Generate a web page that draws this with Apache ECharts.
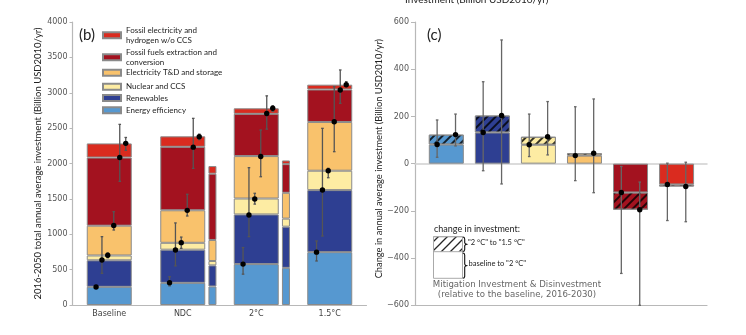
<!DOCTYPE html>
<html><head><meta charset="utf-8">
<script src="https://cdn.jsdelivr.net/npm/echarts@6/dist/echarts.min.js"></script>
<style>html,body{margin:0;padding:0;background:#fff}#chart{width:746px;height:335px}</style>
</head><body><div id="chart"></div>
<script>
// ---------- DATA ----------
const categoriesB = ['Baseline', 'NDC', '2°C', '1.5°C'];
const componentNames = ['Energy efficiency', 'Renewables', 'Nuclear and CCS',
  'Electricity T&D and storage', 'Fossil fuels extraction and conversion',
  'Fossil electricity and hydrogen w/o CCS'];

// panel (b): wide bars, 2016-2050 (segment heights)
const effMain = [257, 313, 578, 747];
const renMain = [375, 469, 702, 877];
const nucMain = [68, 97, 225, 274];
const tdMain  = [421, 460, 600, 689];
const ffMain  = [963, 897, 597, 459];
const feMain  = [200, 148, 78, 68];

// panel (b): narrow bars (segment heights)
const effNarrow = [null, 262, 525, null];
const renNarrow = [null, 298, 582, null];
const nucNarrow = [null, 62, 114, null];
const tdNarrow  = [null, 297, 365, null];
const ffNarrow  = [null, 937, 405, null];
const feNarrow  = [null, 108, 52, null];

// panel (b): cumulative means with ranges (order: EE, Ren, Nuc, T&D, FF, FE)
const meanBaseline = [255, 636, 704, 1124, 2085, 2285];
const lowBaseline  = [255, 448, 668, 1060, 1748, 2186];
const highBaseline = [255, 966, 735, 1319, 2553, 2368];
const meanNDC = [316, 777, 881, 1338, 2231, 2379];
const lowNDC  = [271, 553, 801, 1258, 1931, 2337];
const highNDC = [400, 1160, 960, 1565, 2638, 2415];
const mean2C = [578, 1272, 1498, 2098, 2706, 2780];
const low2C  = [436, 966, 1426, 1813, 2486, 2737];
const high2C = [812, 1941, 1579, 2473, 2956, 2815];
const mean15C = [747, 1625, 1898, 2591, 3039, 3114];
const low15C  = [622, 975, 1799, 2167, 2851, 3086];
const high15C = [905, 2497, 1932, 3086, 3322, 3157];

// panel (c): change in investment vs baseline (2016-2030)
const change2C  = [81, 132, 80, 34, -122, -88];
const change15C = [123, 204, 114, 44, -195, -97];
const chg2CLow   = [27, -30, 30, -72, -465, -241];
const chg2CHigh  = [185, 347, 210, 241, -12, 2];
const chg15CLow  = [75, -86, 37, -123, -600, -246];
const chg15CHigh = [210, 524, 263, 274, -78, 6];

// ---------- STYLE ----------
const compColors = ['#5698d0', '#2e3f92', '#fdeca3', '#f9c26c', '#a3121f', '#da2b1f'];
const borderGray = '#8a8a8a';
const axisGray = '#b8b8b8';
const dotOffsetsB = [-13.2, -7.3, -1.5, 4.5, 10.5, 16.5];
const dotOffsetsC = [-9.2, 9.2];

const mainArrays = [effMain, renMain, nucMain, tdMain, ffMain, feMain];
const narrowArrays = [effNarrow, renNarrow, nucNarrow, tdNarrow, ffNarrow, feNarrow];
const meansB = [meanBaseline, meanNDC, mean2C, mean15C];
const lowsB = [lowBaseline, lowNDC, low2C, low15C];
const highsB = [highBaseline, highNDC, high2C, high15C];

function errRender(offsets, color) {
  return function (params, api) {
    const cat = api.value(0), k = api.value(1);
    const pm = api.coord([cat, api.value(2)]);
    const pl = api.coord([cat, api.value(3)]);
    const ph = api.coord([cat, api.value(4)]);
    const x = pm[0] + offsets[k];
    const ls = { stroke: color, lineWidth: 1.3 };
    return { type: 'group', children: [
      { type: 'line', shape: { x1: x, y1: pl[1], x2: x, y2: ph[1] }, style: ls },
      { type: 'line', shape: { x1: x - 1.3, y1: pl[1], x2: x + 1.3, y2: pl[1] }, style: ls },
      { type: 'line', shape: { x1: x - 1.3, y1: ph[1], x2: x + 1.3, y2: ph[1] }, style: ls },
      { type: 'circle', shape: { cx: x, cy: pm[1], r: 2.7 }, style: { fill: '#000' } }
    ]};
  };
}

const series = [];
for (let i = 0; i < 6; i++) {
  series.push({
    name: componentNames[i], type: 'bar', stack: 'main', xAxisIndex: 0, yAxisIndex: 0,
    barWidth: 45, data: mainArrays[i],
    itemStyle: { color: compColors[i], borderColor: borderGray, borderWidth: 1 }
  });
}
for (let i = 0; i < 6; i++) {
  series.push({
    name: componentNames[i], type: 'bar', stack: 'narrow', xAxisIndex: 1, yAxisIndex: 1,
    barWidth: 8, data: narrowArrays[i],
    itemStyle: { color: compColors[i], borderColor: borderGray, borderWidth: 1 }
  });
}
const errDataB = [];
for (let c = 0; c < 4; c++) for (let k = 0; k < 6; k++)
  errDataB.push([c, k, meansB[c][k], lowsB[c][k], highsB[c][k]]);
series.push({
  type: 'custom', name: 'rangeB', xAxisIndex: 0, yAxisIndex: 0, z: 5,
  renderItem: errRender(dotOffsetsB, '#555'), encode: { x: 0, y: [2, 3, 4] }, data: errDataB
});

series.push({
  name: 'c-2C', type: 'bar', stack: 'c', xAxisIndex: 2, yAxisIndex: 2, barWidth: 35,
  data: change2C.map((v, i) => ({ value: v, itemStyle: { color: compColors[i] } })),
  itemStyle: { borderColor: borderGray, borderWidth: 1 }
});
series.push({
  name: 'c-15C', type: 'bar', stack: 'c', xAxisIndex: 2, yAxisIndex: 2, barWidth: 35,
  data: change15C.map((v, i) => ({ value: v - change2C[i], itemStyle: { color: compColors[i] } })),
  itemStyle: { borderColor: borderGray, borderWidth: 1,
    decal: { symbol: 'rect', symbolSize: 1, dashArrayX: [1, 0], dashArrayY: [1.3, 3.8],
      rotation: -Math.PI / 4, color: 'rgba(0,0,0,0.78)' } }
});
const errDataC = [];
for (let i = 0; i < 6; i++) {
  errDataC.push([i, 0, change2C[i], chg2CLow[i], chg2CHigh[i]]);
  errDataC.push([i, 1, change15C[i], chg15CLow[i], chg15CHigh[i]]);
}
series.push({
  type: 'custom', name: 'rangeC', xAxisIndex: 2, yAxisIndex: 2, z: 5,
  renderItem: errRender(dotOffsetsC, '#666'), encode: { x: 0, y: [2, 3, 4] }, data: errDataC
});

// legends (one per item for precise placement)
const legendTops = { 5: 23, 4: 45, 3: 67.6, 2: 81.5, 1: 92.8, 0: 105 };
const twoLine = {
  'Fossil electricity and hydrogen w/o CCS': 'Fossil electricity and\nhydrogen w/o CCS',
  'Fossil fuels extraction and conversion': 'Fossil fuels extraction and\nconversion'
};
const legends = [5, 4, 3, 2, 1, 0].map(i => ({
  data: [componentNames[i]], left: 102, top: legendTops[i], orient: 'vertical',
  itemWidth: 18, itemHeight: 6, itemGap: 0, padding: 0, selectedMode: false, icon: 'rect',
  formatter: n => twoLine[n] || n,
  textStyle: { fontFamily: 'Lato', fontSize: 8, color: '#222', lineHeight: 10.3,
    padding: twoLine[componentNames[i]] ? [4, 0, 0, 0] : 0 }
}));

function hatchCanvas() {
  const c = document.createElement('canvas'); c.width = 9; c.height = 9;
  const g = c.getContext('2d'); g.strokeStyle = 'rgba(0,0,0,0.85)'; g.lineWidth = 1.3;
  g.beginPath(); g.moveTo(0, 9); g.lineTo(9, 0); g.moveTo(-2, 2); g.lineTo(2, -2);
  g.moveTo(7, 11); g.lineTo(11, 7); g.stroke(); return c;
}
function bracePoints(x0, y0, y1, w) {
  const ym = (y0 + y1) / 2, xm = x0 + w * 0.5, xt = x0 + w;
  return [[x0, y0], [x0 + w * 0.35, y0 + 0.4], [xm, y0 + 2], [xm, ym - 1.5], [x0 + w * 0.7, ym - 0.4], [xt, ym],
    [x0 + w * 0.7, ym + 0.4], [xm, ym + 1.5], [xm, y1 - 2], [x0 + w * 0.35, y1 - 0.4], [x0, y1]];
}

const lbl = { fontFamily: 'DejaVu Sans', fontSize: 8, color: '#555' };
const option = {
  backgroundColor: '#fff',
  animation: false,
  legend: legends,
  grid: [
    { left: 72.5, top: 22, width: 294, height: 283 },
    { left: 102.2, top: 22, width: 294, height: 283 },
    { left: 423.3, top: 22, width: 276.3, height: 283.3 },
    { left: 415, top: 22, width: 292, height: 283.3 }
  ],
  xAxis: [
    { type: 'category', gridIndex: 0, data: categoriesB,
      axisLine: { lineStyle: { color: axisGray, width: 1.2 } },
      axisTick: { alignWithLabel: true, length: 3, lineStyle: { color: axisGray } },
      axisLabel: Object.assign({ margin: 5 }, lbl, { color: '#444' }) },
    { type: 'category', gridIndex: 1, data: categoriesB, show: false },
    { type: 'category', gridIndex: 2, data: componentNames, show: false },
    { type: 'value', gridIndex: 3, min: 0, max: 1, position: 'bottom',
      axisLine: { show: true, onZero: false, lineStyle: { color: axisGray, width: 1.2 } },
      axisTick: { show: false }, axisLabel: { show: false }, splitLine: { show: false } },
    { type: 'value', gridIndex: 3, min: 0, max: 1, position: 'top',
      axisLine: { show: true, onZero: true, lineStyle: { color: '#cfcfcf', width: 1.5 } },
      axisTick: { show: false }, axisLabel: { show: false }, splitLine: { show: false } }
  ],
  yAxis: [
    { type: 'value', gridIndex: 0, min: 0, max: 4000, interval: 500,
      axisLine: { show: true, lineStyle: { color: axisGray, width: 1.2 } },
      axisTick: { show: true, length: 3, lineStyle: { color: axisGray } },
      axisLabel: Object.assign({ margin: 5, formatter: v => String(v) }, lbl), splitLine: { show: false },
      name: '2016-2050 total annual average investment (Billion USD2010/yr)',
      nameLocation: 'middle', nameGap: 21,
      nameTextStyle: { fontFamily: 'Lato', fontSize: 9.5, color: '#222' } },
    { type: 'value', gridIndex: 1, min: 0, max: 4000, show: false },
    { type: 'value', gridIndex: 2, min: -600, max: 600, show: false },
    { type: 'value', gridIndex: 3, min: -600, max: 600, interval: 200,
      axisLine: { show: true, lineStyle: { color: axisGray, width: 1.2 } },
      axisTick: { show: true, length: 4, lineStyle: { color: axisGray } },
      axisLabel: Object.assign({ margin: 6, formatter: v => String(v).replace('-', '\u2212') }, lbl),
      splitLine: { show: false },
      name: 'Change in annual average investment (Billion USD2010/yr)',
      nameLocation: 'middle', nameGap: 28,
      nameTextStyle: { fontFamily: 'Lato', fontSize: 9.3, color: '#222', padding: [0, 0, 0, 10] } }
  ],
  graphic: [
    { type: 'text', left: 79, top: 28, style: { text: '(b)', font: '15px Lato', fill: '#222' } },
    { type: 'text', left: 427, top: 28, style: { text: '(c)', font: '15px Lato', fill: '#222' } },
    { type: 'text', x: 405, y: -0.5, style: { text: 'Investment (Billion USD2010/yr)', font: '10px Lato',
      fill: '#222', verticalAlign: 'middle' } },
    { type: 'text', x: 434, y: 229, style: { text: 'change in investment:', font: '9px Lato', fill: '#222', verticalAlign: 'middle' } },
    { type: 'rect', shape: { x: 433.5, y: 236.7, width: 29, height: 41.6 }, style: { fill: '#fff', stroke: '#aaa', lineWidth: 1 } },
    { type: 'rect', shape: { x: 433.5, y: 236.7, width: 29, height: 15 },
      style: { fill: { image: hatchCanvas(), repeat: 'repeat' }, stroke: '#aaa', lineWidth: 1 } },
    { type: 'polyline', shape: { points: bracePoints(462.8, 237, 251.5, 3.8) }, style: { fill: null, stroke: '#111', lineWidth: 1.1 } },
    { type: 'polyline', shape: { points: bracePoints(462.8, 253, 278.3, 3.8) }, style: { fill: null, stroke: '#111', lineWidth: 1.1 } },
    { type: 'text', left: 468, top: 239, style: { text: '"2 °C" to "1.5 °C"', font: '7.5px Lato', fill: '#222' } },
    { type: 'text', left: 468.5, top: 259.5, style: { text: 'baseline to "2 °C"', font: '7.5px Lato', fill: '#222' } },
    { type: 'text', x: 517, y: 285, style: { text: 'Mitigation Investment & Disinvestment', font: '8.6px "DejaVu Sans"', fill: '#666', align: 'center', verticalAlign: 'middle' } },
    { type: 'text', x: 517, y: 294.5, style: { text: '(relative to the baseline, 2016-2030)', font: '8.6px "DejaVu Sans"', fill: '#666', align: 'center', verticalAlign: 'middle' } }
  ],
  series: series
};
const chart = echarts.init(document.getElementById('chart'), null, { renderer: 'canvas' });
chart.setOption(option);
</script></body></html>
